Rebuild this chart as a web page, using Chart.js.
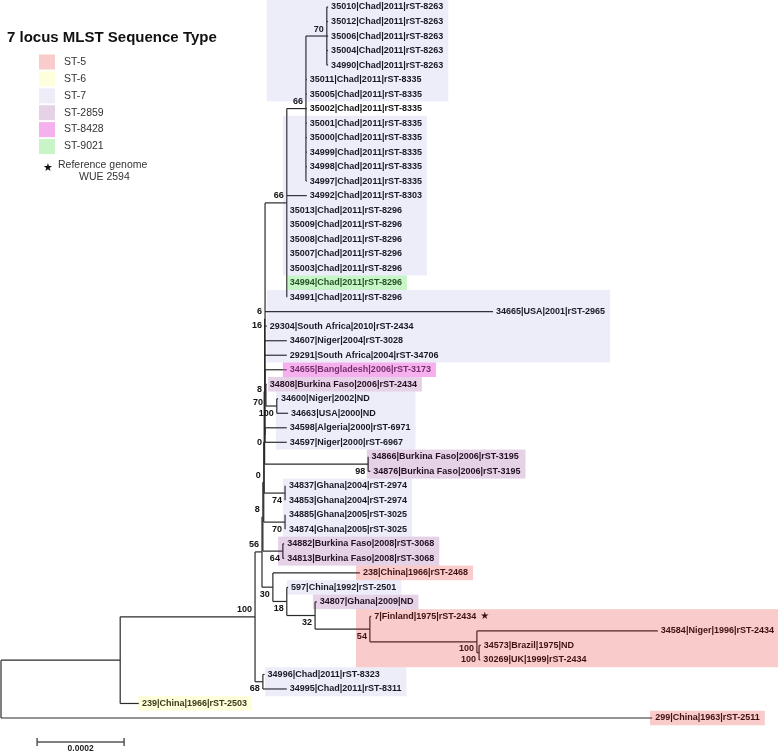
<!DOCTYPE html>
<html>
<head>
<meta charset="utf-8">
<title>7 locus MLST Sequence Type</title>
<script src="https://cdn.jsdelivr.net/npm/chart.js@4.4.1/dist/chart.umd.min.js"></script>
<style>
  html, body { margin: 0; padding: 0; background: #fff; }
  #wrap { width: 778px; height: 751px; }
</style>
</head>
<body>
<div id="wrap"><canvas id="treeChart" width="778" height="751"></canvas></div>
<script>
// tips, top to bottom (index = row)
const tipLabels = [
    '35010|Chad|2011|rST-8263', '35012|Chad|2011|rST-8263', '35006|Chad|2011|rST-8263',
    '35004|Chad|2011|rST-8263', '34990|Chad|2011|rST-8263',
    '35011|Chad|2011|rST-8335', '35005|Chad|2011|rST-8335', '35002|Chad|2011|rST-8335',
    '35001|Chad|2011|rST-8335', '35000|Chad|2011|rST-8335', '34999|Chad|2011|rST-8335',
    '34998|Chad|2011|rST-8335', '34997|Chad|2011|rST-8335',
    '34992|Chad|2011|rST-8303',
    '35013|Chad|2011|rST-8296', '35009|Chad|2011|rST-8296', '35008|Chad|2011|rST-8296',
    '35007|Chad|2011|rST-8296', '35003|Chad|2011|rST-8296', '34994|Chad|2011|rST-8296',
    '34991|Chad|2011|rST-8296',
    '34665|USA|2001|rST-2965', '29304|South Africa|2010|rST-2434', '34607|Niger|2004|rST-3028',
    '29291|South Africa|2004|rST-34706', '34655|Bangladesh|2006|rST-3173',
    '34808|Burkina Faso|2006|rST-2434', '34600|Niger|2002|ND', '34663|USA|2000|ND',
    '34598|Algeria|2000|rST-6971', '34597|Niger|2000|rST-6967',
    '34866|Burkina Faso|2006|rST-3195', '34876|Burkina Faso|2006|rST-3195',
    '34837|Ghana|2004|rST-2974', '34853|Ghana|2004|rST-2974',
    '34885|Ghana|2005|rST-3025', '34874|Ghana|2005|rST-3025',
    '34882|Burkina Faso|2008|rST-3068', '34813|Burkina Faso|2008|rST-3068',
    '238|China|1966|rST-2468', '597|China|1992|rST-2501', '34807|Ghana|2009|ND',
    '7|Finland|1975|rST-2434', '34584|Niger|1996|rST-2434', '34573|Brazil|1975|ND',
    '30269|UK|1999|rST-2434', '34996|Chad|2011|rST-8323', '34995|Chad|2011|rST-8311',
    '239|China|1966|rST-2503', '299|China|1963|rST-2511'
];
const tipParent = [
    'N70t', 'N70t', 'N70t', 'N70t', 'N70t',
    'N66a', 'N66a', 'N66a', 'N66a', 'N66a', 'N66a', 'N66a', 'N66a',
    'N66b', 'N66b', 'N66b', 'N66b', 'N66b', 'N66b', 'N66b', 'N66b',
    'N16', 'N16', 'N16', 'N16', 'N8', 'N70', 'N100c', 'N100c', 'N0x', 'N0x',
    'BF98', 'BF98', 'G74', 'G74', 'G70', 'G70', 'C64', 'C64',
    'N30', 'N18', 'N32', 'N54', 'N100a', 'N100b', 'N100b', 'D', 'D', 'A', 'root'
];
// distance from root, in units of 1e-4 substitutions/site
const tipDepth = [
    7.52, 7.52, 7.52, 7.52, 7.52,
    7.03, 7.03, 7.03, 7.03, 7.03, 7.03, 7.03, 7.03,
    7.03, 6.57, 6.57, 6.57, 6.57, 6.57, 6.57, 6.57,
    11.31, 6.11, 6.57, 6.57, 6.57, 6.11, 6.37, 6.60, 6.57, 6.57,
    8.45, 8.49, 6.55, 6.55, 6.55, 6.55, 6.51, 6.51,
    8.25, 6.60, 7.26, 8.51, 15.10, 11.03, 11.02, 6.06, 6.57, 3.17, 14.97
];
const referenceTip = '7|Finland|1975|rST-2434';

// internal nodes
const nodeNames = ['root', 'A', 'B', 'D', 'N56', 'N30', 'N18', 'N32', 'N54', 'N100a', 'N100b',
    'Z4', 'Z3', 'Z2', 'Z1', 'C64', 'G70', 'G74', 'BF98', 'N6', 'N16', 'N8', 'N70', 'N100c',
    'N0x', 'N66b', 'N66a', 'N70t'];
const nodeParent = [null, 'root', 'A', 'B', 'B', 'N56', 'N30', 'N18', 'N32', 'N54', 'N100a',
    'N56', 'Z4', 'Z3', 'Z2', 'Z4', 'Z3', 'Z2', 'Z1', 'Z1', 'N6', 'N16', 'N8', 'N70',
    'N16', 'N16', 'N66b', 'N66a'];
const nodeDepth = [0, 2.74, 5.84, 6.02, 6.00, 6.25, 6.57, 7.22, 8.48, 10.94, 10.99,
    6.02, 6.04, 6.05, 6.06, 6.48, 6.53, 6.53, 8.44, 6.07, 6.07, 6.07, 6.09, 6.34,
    6.07, 6.57, 7.01, 7.49];
const nodeSupport = [null, null, 100, 68, 56, 30, 18, 32, 54, 100, 100,
    8, 0, null, null, 64, 70, 74, 98, 6, 16, 8, 70, 100,
    0, 66, 66, 70];

// sequence type highlights (tip rows)
const boxFirst = [0, 8, 19, 20, 25, 26, 27, 31, 33, 37, 39, 40, 41, 42, 46, 48, 49];
const boxLast = [6, 18, 19, 24, 25, 26, 30, 32, 36, 38, 39, 40, 41, 45, 47, 48, 49];
const boxST = ['ST-7', 'ST-7', 'ST-9021', 'ST-7', 'ST-8428', 'ST-2859', 'ST-7', 'ST-2859',
    'ST-7', 'ST-2859', 'ST-5', 'ST-7', 'ST-2859', 'ST-5', 'ST-7', 'ST-6', 'ST-5'];
const boxFrom = [6.11, 6.48, 6.57, 6.11, 6.48, 6.14, 6.32, 8.41, 6.48, 6.37, 8.16, 6.57,
    7.17, 8.16, 6.07, 3.15, 14.92];

const stNames = ['ST-5', 'ST-6', 'ST-7', 'ST-2859', 'ST-8428', 'ST-9021'];
const scaleBarValue = 0.0002;

// translucent overlays, so tinted text shows through like the original
const stColors = {
    'ST-5': 'rgba(232,20,20,0.22)',
    'ST-6': 'rgba(250,250,40,0.16)',
    'ST-7': 'rgba(90,90,210,0.11)',
    'ST-2859': 'rgba(115,15,125,0.19)',
    'ST-8428': 'rgba(236,80,214,0.45)',
    'ST-9021': 'rgba(70,222,70,0.30)'
};

const labelFont = "bold 9px 'Liberation Sans', Arial, sans-serif";

// ---- build tree layout ----
const nodeIndex = {};
nodeNames.forEach((n, i) => nodeIndex[n] = i);
const children = nodeNames.map(() => []);
tipLabels.forEach((t, i) => children[nodeIndex[tipParent[i]]].push({ tip: i }));
nodeNames.forEach((n, i) => {
    if (nodeParent[i]) children[nodeIndex[nodeParent[i]]].push({ node: i });
});

function minRow(c) {
    if (c.tip !== undefined) return c.tip;
    return Math.min(...children[c.node].map(minRow));
}
children.forEach(list => list.sort((a, b) => minRow(a) - minRow(b)));

const nodeY = [];
function layoutY(c) {
    if (c.tip !== undefined) return c.tip;
    const list = children[c.node];
    const ys = list.map(layoutY);
    nodeY[c.node] = (ys[0] + ys[ys.length - 1]) / 2;
    return nodeY[c.node];
}
layoutY({ node: nodeIndex.root });

function depthOf(c) { return c.tip !== undefined ? tipDepth[c.tip] : nodeDepth[c.node]; }
function yOf(c) { return c.tip !== undefined ? c.tip : nodeY[c.node]; }

const segments = [];
tipLabels.forEach((t, i) => {
    const p = nodeIndex[tipParent[i]];
    segments.push([{ x: nodeDepth[p], y: i }, { x: tipDepth[i], y: i }]);
});
nodeNames.forEach((n, i) => {
    if (nodeParent[i]) {
        const p = nodeIndex[nodeParent[i]];
        segments.push([{ x: nodeDepth[p], y: nodeY[i] }, { x: nodeDepth[i], y: nodeY[i] }]);
    }
    const list = children[i];
    const y0 = yOf(list[0]), y1 = yOf(list[list.length - 1]);
    if (y1 > y0) segments.push([{ x: nodeDepth[i], y: y0 }, { x: nodeDepth[i], y: y1 }]);
});

const datasets = segments.map(seg => ({
    data: seg,
    showLine: true,
    borderColor: '#2b2b2b',
    borderWidth: 1.2,
    pointRadius: 0,
    fill: false
}));

// label above if node is first of several children
function labelAbove(i) {
    if (!nodeParent[i]) return true;
    const list = children[nodeIndex[nodeParent[i]]];
    return list.length > 1 && list[0].node === i;
}

const treePlugin = {
    id: 'treeLabels',
    afterDatasetsDraw(chart) {
        const ctx = chart.ctx;
        const xs = chart.scales.x, ys = chart.scales.y;
        ctx.save();
        ctx.font = labelFont;
        ctx.fillStyle = '#111';
        ctx.textBaseline = 'middle';

        // tip labels
        const labelEnd = [];
        ctx.textAlign = 'left';
        tipLabels.forEach((t, i) => {
            const x = xs.getPixelForValue(tipDepth[i]) + 3;
            const y = ys.getPixelForValue(i);
            ctx.fillText(t, x, y);
            labelEnd[i] = x + ctx.measureText(t).width;
            if (t === referenceTip) {
                ctx.font = "10px 'DejaVu Sans', sans-serif";
                ctx.fillText('\u2605', labelEnd[i] + 4, y);
                ctx.font = labelFont;
            }
        });

        // support values
        ctx.textAlign = 'right';
        nodeNames.forEach((n, i) => {
            if (nodeSupport[i] === null) return;
            const x = xs.getPixelForValue(nodeDepth[i]) - 3;
            const y = ys.getPixelForValue(nodeY[i]) + (labelAbove(i) ? -7 : 7);
            ctx.fillText(String(nodeSupport[i]), x, y);
        });

        // highlight boxes
        const half = Math.abs(ys.getPixelForValue(1) - ys.getPixelForValue(0)) / 2;
        boxFirst.forEach((r0, k) => {
            const r1 = boxLast[k];
            let right = 0;
            for (let r = r0; r <= r1; r++) right = Math.max(right, labelEnd[r]);
            right = Math.min(right + 5, chart.width);
            const left = xs.getPixelForValue(boxFrom[k]);
            const top = ys.getPixelForValue(r0) - half;
            const bottom = ys.getPixelForValue(r1) + half;
            ctx.fillStyle = stColors[boxST[k]];
            ctx.fillRect(left, top, right - left, bottom - top);
        });

        // scale bar
        const bx0 = xs.getPixelForValue(0.83);
        const bx1 = xs.getPixelForValue(0.83 + scaleBarValue * 1e4);
        const by = 742;
        ctx.strokeStyle = '#555';
        ctx.lineWidth = 1.5;
        ctx.beginPath();
        ctx.moveTo(bx0, by); ctx.lineTo(bx1, by);
        ctx.moveTo(bx0, by - 4); ctx.lineTo(bx0, by + 4);
        ctx.moveTo(bx1, by - 4); ctx.lineTo(bx1, by + 4);
        ctx.stroke();
        ctx.fillStyle = '#222';
        ctx.textAlign = 'center';
        ctx.font = "bold 8.5px 'Liberation Sans', Arial, sans-serif";
        ctx.fillText(String(scaleBarValue), (bx0 + bx1) / 2, 749);

        // legend
        ctx.textAlign = 'left';
        ctx.fillStyle = '#111';
        ctx.font = "bold 15px 'Liberation Sans', Arial, sans-serif";
        ctx.fillText('7 locus MLST Sequence Type', 7, 38);
        ctx.font = "10.5px 'Liberation Sans', Arial, sans-serif";
        stNames.forEach((st, k) => {
            const cy = 62 + k * 16.9;
            ctx.fillStyle = stColors[st];
            ctx.fillRect(39, cy - 7.5, 16, 15);
            ctx.fillStyle = '#333';
            ctx.fillText(st, 64, cy);
        });
        ctx.fillStyle = '#111';
        ctx.font = "11px 'DejaVu Sans', sans-serif";
        ctx.fillText('\u2605', 43, 168);
        ctx.fillStyle = '#333';
        ctx.font = "10.5px 'Liberation Sans', Arial, sans-serif";
        ctx.fillText('Reference genome', 58, 165);
        ctx.fillText('WUE 2594', 79, 177);
        ctx.restore();
    }
};

const ctx = document.getElementById('treeChart').getContext('2d');
const chart = new Chart(ctx, {
    type: 'scatter',
    data: { datasets: datasets },
    options: {
        responsive: false,
        animation: false,
        devicePixelRatio: 1,
        events: [],
        layout: { padding: 0 },
        plugins: { legend: { display: false }, tooltip: { enabled: false } },
        scales: {
            x: { type: 'linear', display: false, min: -0.023, max: 17.862 },
            y: { type: 'linear', display: false, reverse: true, min: -0.4824, max: 51.275 }
        }
    },
    plugins: [treePlugin]
});
</script>
</body>
</html>
